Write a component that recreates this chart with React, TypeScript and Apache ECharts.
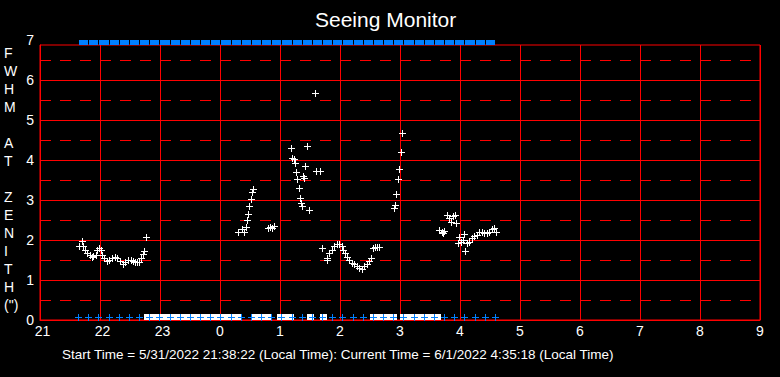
import React, { useEffect, useRef } from "react";
import * as echarts from "echarts";

// FWHM measurements: hours after 21:00 and value in arcsec
const fwhmTime = [
  0.655, 0.695, 0.722, 0.75, 0.788, 0.833, 0.862, 0.888, 0.933, 0.955, 0.988, 1.012, 1.033, 1.067, 1.112, 1.155,
  1.2, 1.25, 1.288, 1.333, 1.378, 1.422, 1.472, 1.512, 1.545, 1.583, 1.622, 1.655, 1.683, 1.712, 1.738, 1.767,
  3.305, 3.362, 3.4, 3.433, 3.445, 3.472, 3.488, 3.512, 3.528, 3.545,
  3.805, 3.833, 3.867, 3.9,
  4.188, 4.205, 4.233, 4.255, 4.272, 4.288, 4.322, 4.338, 4.355, 4.372, 4.388, 4.405, 4.422, 4.45, 4.488, 4.588, 4.605, 4.672,
  4.695, 4.778, 4.788, 4.822, 4.862, 4.9, 4.945, 4.988, 5.028, 5.055, 5.088, 5.122, 5.155, 5.195, 5.233, 5.278,
  5.322, 5.362, 5.4, 5.445, 5.483, 5.517, 5.545, 5.583, 5.622, 5.655,
  5.905, 5.922, 5.938, 5.967, 5.988, 6.022, 6.038,
  6.655, 6.695, 6.712, 6.733, 6.778, 6.822, 6.845, 6.888, 6.917, 6.933, 6.972, 6.988, 7.012, 7.045, 7.067, 7.083,
  7.122, 7.155, 7.195, 7.233, 7.278, 7.322, 7.362, 7.4, 7.445, 7.488, 7.528, 7.567, 7.595,
];
const fwhmValue = [
  1.84, 1.97, 1.84, 1.75, 1.67, 1.62, 1.58, 1.6, 1.62, 1.75, 1.81, 1.75, 1.62, 1.54, 1.47, 1.51,
  1.54, 1.58, 1.56, 1.47, 1.41, 1.45, 1.5, 1.5, 1.47, 1.45, 1.44, 1.44, 1.54, 1.64, 1.73, 2.08,
  2.21, 2.27, 2.21, 2.33, 2.5, 2.66, 2.85, 3.02, 3.21, 3.27,
  2.29, 2.33, 2.31, 2.34,
  4.29, 4.06, 4.02, 3.92, 3.69, 3.52, 3.29, 3.06, 2.92, 2.84, 3.59, 3.56, 3.84, 4.34, 2.74, 5.67, 3.72, 3.72,
  1.79, 1.54, 1.5, 1.67, 1.75, 1.85, 1.91, 1.91, 1.84, 1.75, 1.67, 1.58, 1.5, 1.43, 1.39, 1.35,
  1.31, 1.27, 1.34, 1.41, 1.48, 1.54, 1.79, 1.82, 1.82, 1.82,
  2.79, 2.88, 3.15, 3.52, 3.77, 4.19, 4.67,
  2.25, 2.19, 2.17, 2.23, 2.62, 2.54, 2.46, 2.6, 2.62, 2.42, 1.93, 2.08, 1.95, 2.0, 2.14, 1.73,
  1.93, 1.95, 2.04, 2.1, 2.12, 2.19, 2.2, 2.17, 2.17, 2.21, 2.27, 2.31, 2.19,
];

// Intervals with failed measurement (plotted at 0): start / end, hours after 21:00
const failStart = [1.78, 3.58, 4.0, 4.5, 4.72, 5.55, 5.67, 6.05];
const failEnd = [3.28, 3.8, 4.17, 4.5, 4.72, 5.55, 5.88, 6.62];

// Sample clock times (~every 10 min, start to current time)
const sampleClock = [
  "21:38", "21:48", "21:58", "22:09", "22:19", "22:29", "22:39", "22:49", "22:59", "23:10",
  "23:20", "23:30", "23:40", "23:50", "0:00", "0:11", "0:21", "0:31", "0:41", "0:51",
  "1:01", "1:12", "1:22", "1:32", "1:42", "1:52", "2:02", "2:13", "2:23", "2:33",
  "2:43", "2:53", "3:03", "3:14", "3:24", "3:34", "3:44", "3:54", "4:04", "4:15",
  "4:25", "4:35",
];

// dashed reference levels
const halfLevels = [0.5, 1.5, 2.5, 3.5, 4.5, 5.5, 6.5];
// plot frame top value (the frame is cut just below the "7" tick)
const plotTop = 6.875;
const labelMax = 7;

const yTitleLines = ["F", "W", "H", "M", "", "A", "T", "", "Z", "E", "N", "I", "T", "H", "(\")"];
const footerText =
  "Start Time = 5/31/2022 21:38:22 (Local Time): Current Time = 6/1/2022 4:35:18 (Local Time)";
const chartTitle = "Seeing Monitor";
const startHour = 21;

const FONT = "'Liberation Sans', Arial, sans-serif";
const BLUE = "#0080ff";
const RED = "#ff0000";

function clockToHours(s: string): number {
  const [h, m] = s.split(":").map(Number);
  let d = h - startHour;
  if (d < 0) d += 24;
  return d + m / 60;
}

// crisp 7px plus marker centred on a data point
function plusRenderer(color: string, dy: number) {
  return (params: any, api: any) => {
    const p = api.coord([api.value(0), api.value(1)]);
    const cx = Math.round(p[0]);
    const cy = Math.round(p[1] + dy);
    return {
      type: "group",
      children: [
        { type: "rect", shape: { x: cx - 3, y: cy, width: 7, height: 1 }, style: { fill: color } },
        { type: "rect", shape: { x: cx, y: cy - 3, width: 1, height: 7 }, style: { fill: color } },
      ],
    };
  };
}

export default function App() {
  const ref = useRef<HTMLDivElement>(null);
  useEffect(() => {
    document.body.style.margin = "0";
    document.body.style.background = "#000";
    const chart = echarts.init(ref.current!, null, { renderer: "svg" });
    const sampleHours = sampleClock.map(clockToHours);
    const bandPairs = sampleHours.slice(0, -1).map((t, i) => [t, sampleHours[i + 1]]);
    chart.setOption({
      animation: false,
      backgroundColor: "#000",
      grid: [
        {
          left: 40,
          right: 20,
          top: 45,
          bottom: 57,
          show: true,
          borderColor: RED,
          borderWidth: 1,
          backgroundColor: "transparent",
        },
        { left: 40, right: 20, top: 40, bottom: 57, show: false },
      ],
      xAxis: [
        {
          type: "value",
          gridIndex: 0,
          min: 0,
          max: 12,
          interval: 1,
          axisLine: { show: true, lineStyle: { color: RED } },
          axisTick: { show: false },
          axisLabel: {
            color: "#fff",
            fontFamily: FONT,
            fontSize: 14,
            margin: 4,
            formatter: (v: number) => {
              const s = String((v + startHour) % 24);
              return s.length > 1 ? `{w|${s}}` : s;
            },
            rich: { w: { color: "#fff", fontFamily: FONT, fontSize: 14, padding: [0, 0, 0, 5] } },
          },
          splitLine: { show: true, lineStyle: { color: RED, width: 1 } },
        },
        { type: "value", gridIndex: 1, min: 0, max: 12, show: false },
      ],
      yAxis: [
        {
          type: "value",
          gridIndex: 0,
          min: 0,
          max: plotTop,
          interval: 1,
          axisLine: { show: true, lineStyle: { color: RED } },
          axisTick: { show: false },
          axisLabel: { show: false },
          splitLine: { show: true, showMaxLine: false, lineStyle: { color: RED, width: 1 } },
        },
        {
          type: "value",
          gridIndex: 1,
          min: 0,
          max: labelMax,
          interval: 1,
          axisLine: { show: false },
          axisTick: { show: false },
          splitLine: { show: false },
          axisLabel: { color: "#fff", fontFamily: FONT, fontSize: 14, margin: 6 },
        },
      ],
      graphic: [
        {
          type: "text",
          left: 315,
          top: 9,
          style: { text: chartTitle, fill: "#fff", font: `21px ${FONT}` },
        },
        {
          type: "text",
          left: 4,
          top: 44,
          style: {
            text: yTitleLines.join("\n"),
            fill: "#fff",
            font: `14px ${FONT}`,
            lineHeight: 18,
            align: "center",
            width: 20,
          },
        },
        {
          type: "text",
          left: 62,
          top: 347,
          style: { text: footerText, fill: "#fff", font: `13.5px ${FONT}` },
        },
      ],
      series: [
        {
          type: "custom",
          name: "halfLines",
          coordinateSystem: "cartesian2d",
          data: halfLevels.map((v) => [0, v]),
          z: 1,
          silent: true,
          renderItem: (params: any, api: any) => {
            const cs = params.coordSys;
            const p = api.coord([0, api.value(1)]);
            const y = Math.round(p[1]) + 0.5;
            return {
              type: "line",
              shape: { x1: cs.x, y1: y, x2: cs.x + cs.width, y2: y },
              style: { stroke: RED, lineWidth: 1, lineDash: [11, 9] },
            };
          },
        },
        {
          type: "custom",
          name: "fail",
          coordinateSystem: "cartesian2d",
          data: failStart.map((s, i) => [s, failEnd[i]]),
          encode: { x: [0, 1] },
          z: 3,
          renderItem: (params: any, api: any) => {
            const a = api.coord([api.value(0), 0]);
            const b = api.coord([api.value(1), 0]);
            return {
              type: "rect",
              shape: {
                x: Math.round(a[0]) - 3,
                y: Math.round(a[1]) - 6,
                width: Math.round(b[0]) - Math.round(a[0]) + 7,
                height: 6,
              },
              style: { fill: "#fff" },
            };
          },
        },
        {
          type: "custom",
          name: "topBand",
          coordinateSystem: "cartesian2d",
          data: bandPairs,
          encode: { x: [0, 1] },
          z: 5,
          renderItem: (params: any, api: any) => {
            const a = api.coord([api.value(0), labelMax]);
            const b = api.coord([api.value(1), labelMax]);
            const x0 = Math.round(a[0]) + 1;
            const x1 = Math.round(b[0]);
            return {
              type: "rect",
              shape: { x: x0, y: Math.round(a[1]), width: x1 - x0, height: 5 },
              style: { fill: BLUE },
            };
          },
        },
        {
          type: "custom",
          name: "fwhm",
          coordinateSystem: "cartesian2d",
          data: fwhmTime.map((t, i) => [t, fwhmValue[i]]),
          z: 4,
          renderItem: plusRenderer("#ffffff", 0),
        },
        {
          type: "custom",
          name: "samplesBottom",
          coordinateSystem: "cartesian2d",
          data: sampleHours.map((t) => [t, 0]),
          z: 5,
          renderItem: plusRenderer(BLUE, -3),
        },
      ],
    });
    return () => chart.dispose();
  }, []);
  return (
    <div
      ref={ref}
      style={{ position: "absolute", left: 0, top: 0, width: 780, height: 377, background: "#000" }}
    />
  );
}
